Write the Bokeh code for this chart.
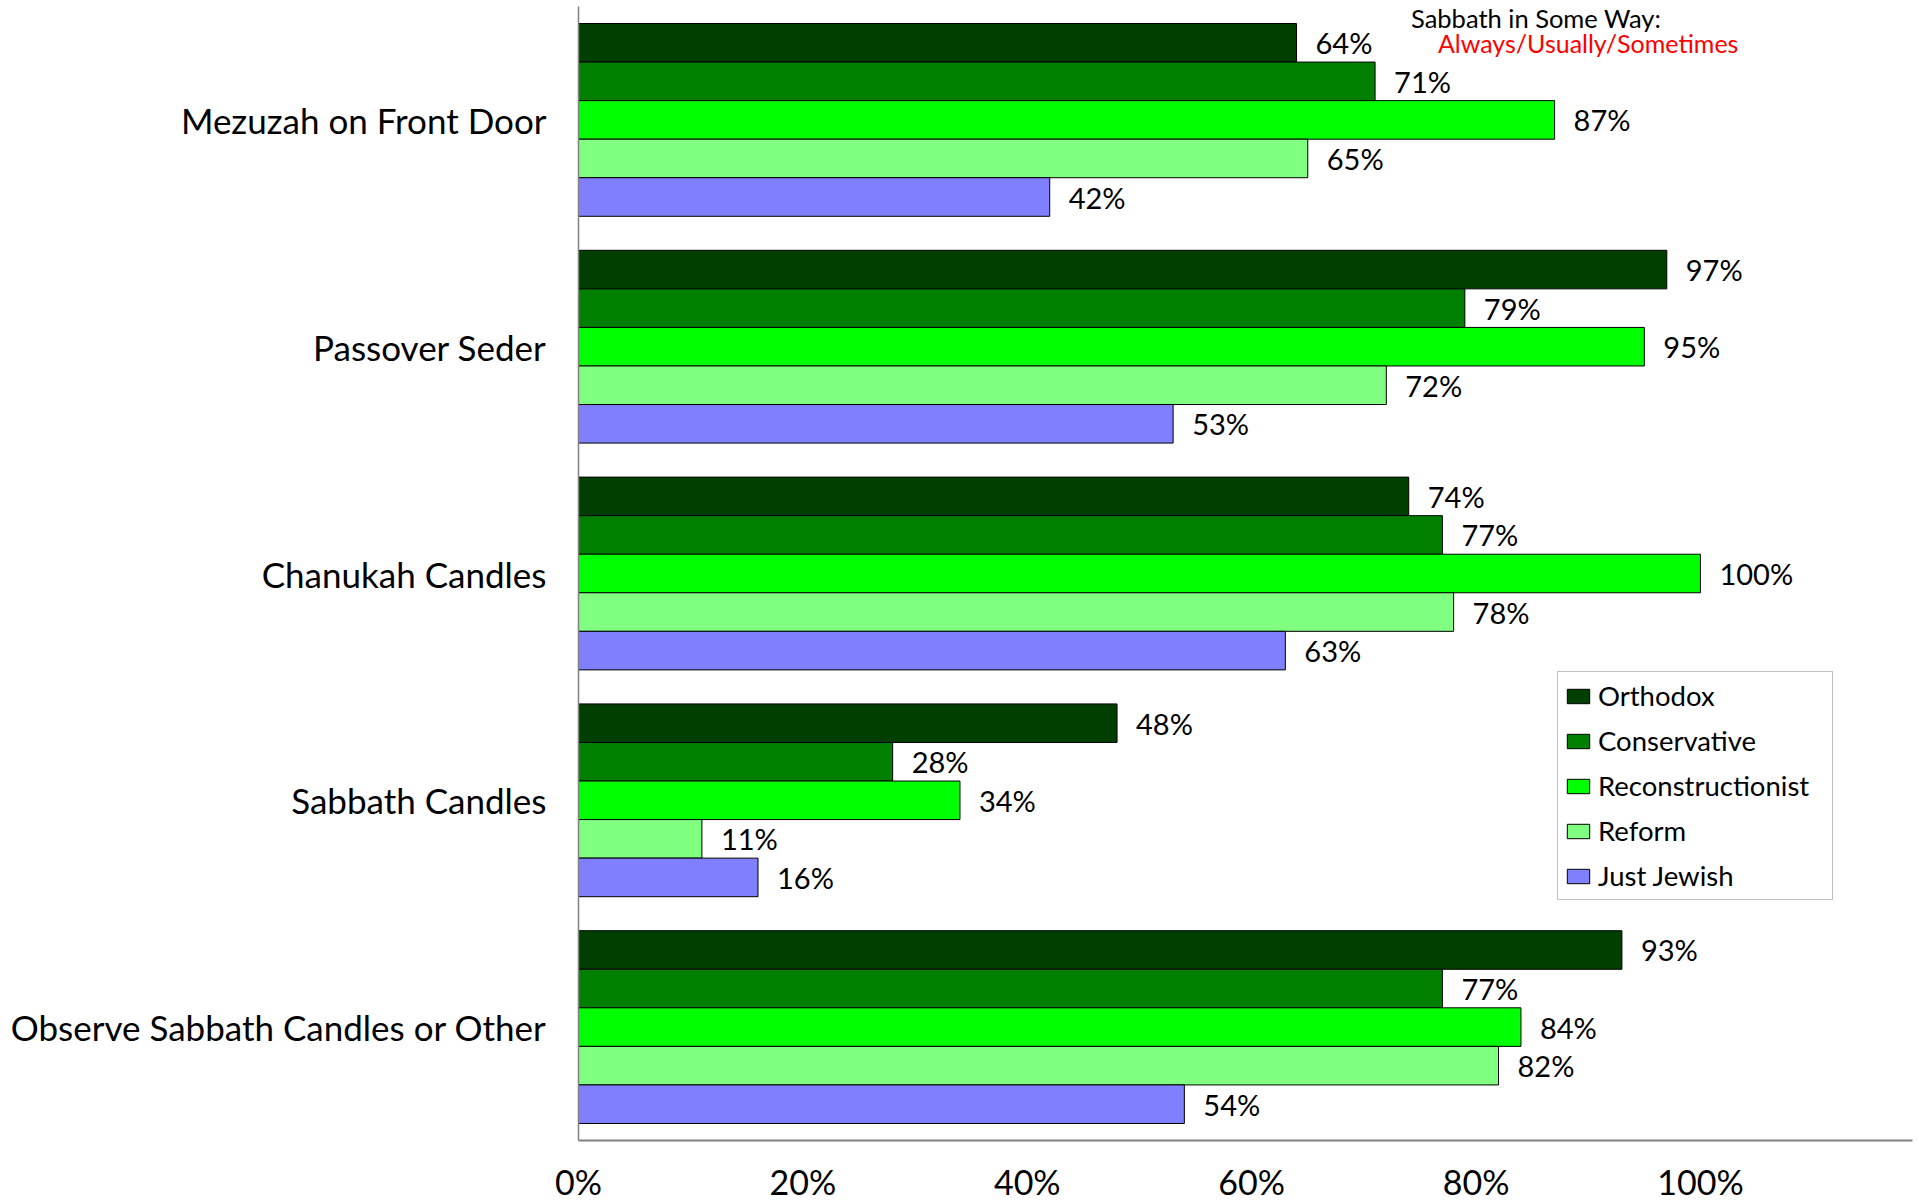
from bokeh.plotting import figure
from bokeh.models import FactorRange, Range1d, FixedTicker, NumeralTickFormatter, Label, ColumnDataSource
from bokeh.transform import dodge
from bokeh.core.properties import value
from bokeh.embed import file_html
from bokeh.resources import INLINE

categories = ["Mezuzah on Front Door", "Passover Seder", "Chanukah Candles",
              "Sabbath Candles", "Observe Sabbath Candles or Other"]
series = ["Orthodox", "Conservative", "Reconstructionist", "Reform", "Just Jewish"]
orthodox = [64, 97, 74, 48, 93]
conservative = [71, 79, 77, 28, 77]
reconstructionist = [87, 95, 100, 34, 84]
reform = [65, 72, 78, 11, 82]
just_jewish = [42, 53, 63, 16, 54]
x_ticks = [0, 20, 40, 60, 80, 100]
note_title = "Sabbath in Some Way:"
note_sub = "Always/Usually/Sometimes"

values_by_series = [orthodox, conservative, reconstructionist, reform, just_jewish]
colors = ["#003F00", "#007F00", "#00FF00", "#80FF80", "#8080FF"]
offsets = [0.34, 0.17, 0.0, -0.17, -0.34]
FONT = "Lato"

p = figure(width=1919, height=1204,
           y_range=FactorRange(factors=categories[::-1]),
           x_range=Range1d(0, 1.189),
           output_backend="svg", toolbar_location=None,
           min_border_left=578, min_border_right=7,
           min_border_top=6, min_border_bottom=63)

p.outline_line_color = None
p.xgrid.grid_line_color = None
p.ygrid.grid_line_color = None
p.background_fill_color = "white"

for name, vals, col, off in zip(series, values_by_series, colors, offsets):
    src = ColumnDataSource(dict(cat=categories, v=[x / 100 for x in vals],
                                lab=[f"{x}%" for x in vals]))
    p.hbar(y=dodge("cat", off, range=p.y_range), right="v", left=0, height=0.17,
           source=src, fill_color=col, line_color="black", line_width=1,
           legend_label=name)
    p.text(x="v", y=dodge("cat", off, range=p.y_range), text="lab", source=src,
           x_offset=19, y_offset=0, text_align="left", text_baseline="middle",
           text_font=value(FONT), text_font_size="29px", text_color="black")

# axes
p.xaxis.ticker = FixedTicker(ticks=[t / 100 for t in x_ticks])
p.xaxis.formatter = NumeralTickFormatter(format="0%")
p.xaxis.major_tick_line_color = None
p.xaxis.minor_tick_line_color = None
p.xaxis.major_tick_out = 0
p.xaxis.major_tick_in = 0
p.xaxis.major_label_standoff = 20
p.xaxis.major_label_text_font = FONT
p.xaxis.major_label_text_font_size = "34px"
p.xaxis.major_label_text_color = "black"
p.xaxis.axis_line_color = "#808080"
p.xaxis.axis_line_width = 2

p.yaxis.major_tick_line_color = None
p.yaxis.minor_tick_line_color = None
p.yaxis.major_tick_out = 0
p.yaxis.major_tick_in = 0
p.yaxis.major_label_standoff = 32
p.yaxis.major_label_text_font = FONT
p.yaxis.major_label_text_font_size = "35px"
p.yaxis.major_label_text_color = "black"
p.yaxis.axis_line_color = "#808080"
p.yaxis.axis_line_width = 1.5

# legend
lg = p.legend[0]
lg.location = (979, 240)
lg.border_line_color = "#808080"
lg.border_line_width = 1.5
lg.background_fill_color = "white"
lg.background_fill_alpha = 1
lg.label_text_font = FONT
lg.label_text_font_size = "27.5px"
lg.label_text_color = "black"
lg.glyph_width = 28
lg.glyph_height = 18
lg.label_height = 35
lg.label_width = 228
lg.label_standoff = 6
lg.spacing = 10
lg.padding = 6
lg.margin = 0

# annotation
p.add_layout(Label(x=0.742, y=5.0 + 4 / 227, text=note_title, text_baseline="top",
                   text_font=FONT, text_font_size="25.5px", text_color="black"))
p.add_layout(Label(x=0.766, y=5.0 - 22 / 227, text=note_sub, text_baseline="top",
                   text_font=FONT, text_font_size="25px", text_color="#FF0000"))

open("out.html", "w").write(file_html(p, INLINE))
